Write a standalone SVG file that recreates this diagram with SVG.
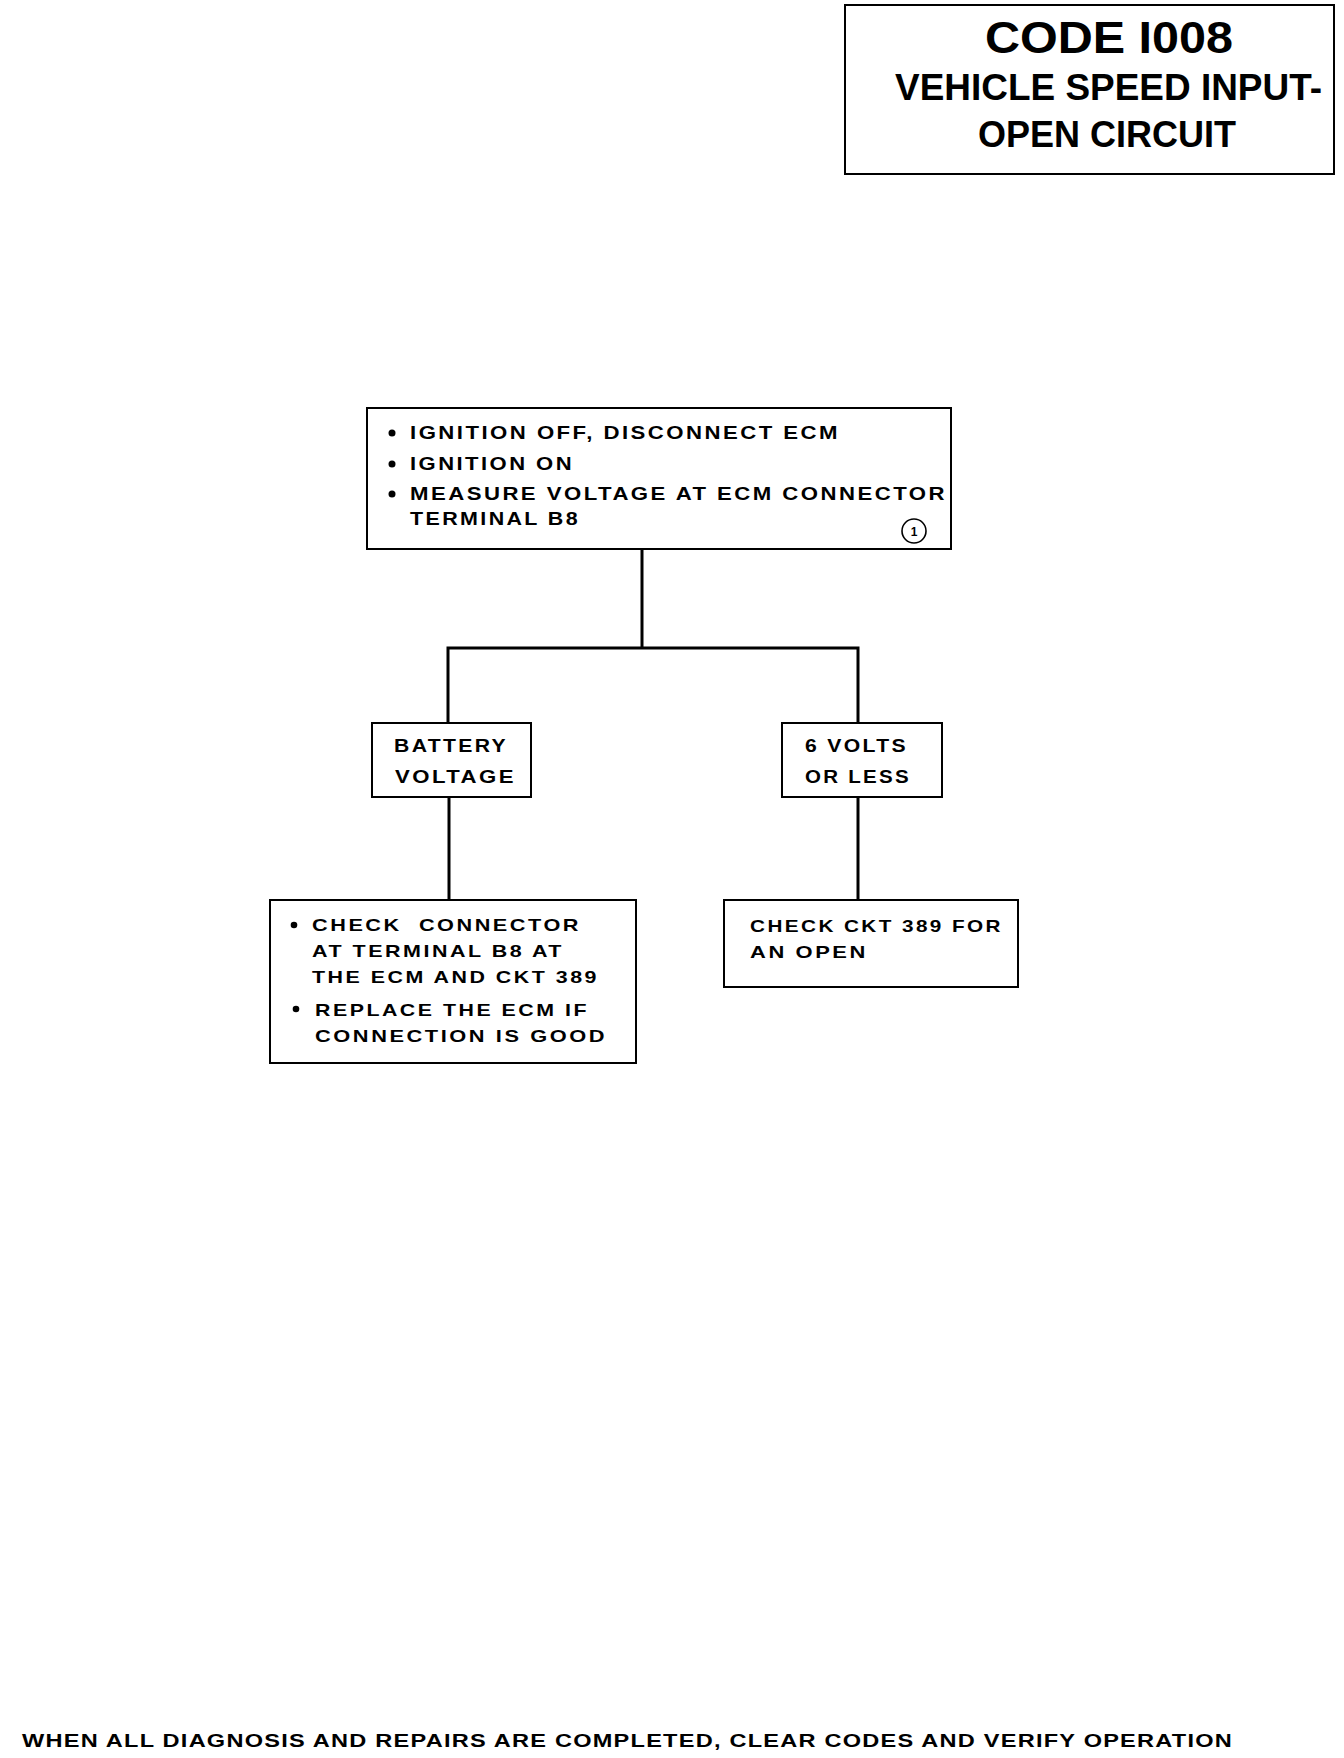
<svg xmlns="http://www.w3.org/2000/svg" width="1344" height="1758" viewBox="0 0 1344 1758">
<style>
.box{fill:#fff;stroke:#000;stroke-width:2}
.t{font-family:"Liberation Sans",Arial,sans-serif;font-weight:bold;fill:#000}
.w{letter-spacing:2px}
.m{font-size:18px}
.s{font-size:17px}
.b{font-size:18px}
.conn{fill:none;stroke:#000;stroke-width:3}
</style>
<rect width="1344" height="1758" fill="#fff"/>
<g id="title">
<rect class="box" x="845" y="5" width="489" height="169" stroke-width="2.5"/>
<text class="t" x="985" y="53" font-size="45" textLength="248" lengthAdjust="spacingAndGlyphs">CODE I008</text>
<text class="t" x="895" y="100" font-size="37" textLength="427" lengthAdjust="spacingAndGlyphs">VEHICLE SPEED INPUT-</text>
<text class="t" x="978" y="147" font-size="37" textLength="258" lengthAdjust="spacingAndGlyphs">OPEN CIRCUIT</text>
</g>
<g id="connectors">
<path class="conn" d="M642,549 V648"/>
<path class="conn" d="M448,723 V648 H858 V723"/>
<path class="conn" d="M449,797 V900"/>
<path class="conn" d="M858,797 V900"/>
</g>
<g id="start">
<rect class="box" x="367" y="408" width="584" height="141"/>
<circle cx="392" cy="433" r="3.5"/>
<circle cx="392" cy="464" r="3.5"/>
<circle cx="392" cy="494" r="3.5"/>
<text class="t m w" x="410" y="439" textLength="430" lengthAdjust="spacingAndGlyphs">IGNITION OFF, DISCONNECT ECM</text>
<text class="t m w" x="410" y="470" textLength="164" lengthAdjust="spacingAndGlyphs">IGNITION ON</text>
<text class="t m w" x="410" y="500" textLength="537" lengthAdjust="spacingAndGlyphs">MEASURE VOLTAGE AT ECM CONNECTOR</text>
<text class="t m w" x="410" y="525" textLength="170" lengthAdjust="spacingAndGlyphs">TERMINAL B8</text>
<circle cx="914" cy="531" r="12" fill="none" stroke="#000" stroke-width="1.6"/>
<text class="t" x="914" y="535.5" font-size="12" text-anchor="middle" font-weight="normal">1</text>
</g>
<g id="battery">
<rect class="box" x="372" y="723" width="159" height="74"/>
<text class="t b w" x="394" y="752" textLength="114" lengthAdjust="spacingAndGlyphs">BATTERY</text>
<text class="t b w" x="395" y="783" textLength="121" lengthAdjust="spacingAndGlyphs">VOLTAGE</text>
</g>
<g id="sixvolts">
<rect class="box" x="782" y="723" width="160" height="74"/>
<text class="t b w" x="805" y="752" textLength="103" lengthAdjust="spacingAndGlyphs">6 VOLTS</text>
<text class="t b w" x="805" y="783" textLength="106" lengthAdjust="spacingAndGlyphs">OR LESS</text>
</g>
<g id="checkconnector">
<rect class="box" x="270" y="900" width="366" height="163"/>
<circle cx="294" cy="925" r="3.3"/>
<circle cx="296" cy="1009" r="3.3"/>
<text class="t s w" x="312" y="931" textLength="269" lengthAdjust="spacingAndGlyphs" xml:space="preserve">CHECK  CONNECTOR</text>
<text class="t s w" x="312" y="957" textLength="252" lengthAdjust="spacingAndGlyphs">AT TERMINAL B8 AT</text>
<text class="t s w" x="312" y="983" textLength="287" lengthAdjust="spacingAndGlyphs">THE ECM AND CKT 389</text>
<text class="t s w" x="315" y="1016" textLength="274" lengthAdjust="spacingAndGlyphs">REPLACE THE ECM IF</text>
<text class="t s w" x="315" y="1042" textLength="292" lengthAdjust="spacingAndGlyphs">CONNECTION IS GOOD</text>
</g>
<g id="checkckt">
<rect class="box" x="724" y="900" width="294" height="87"/>
<text class="t s w" x="750" y="932" textLength="253" lengthAdjust="spacingAndGlyphs">CHECK CKT 389 FOR</text>
<text class="t s w" x="750" y="958" textLength="118" lengthAdjust="spacingAndGlyphs">AN OPEN</text>
</g>
<g id="footer">
<text class="t" x="22" y="1747" font-size="19" letter-spacing="1" textLength="1211" lengthAdjust="spacingAndGlyphs">WHEN ALL DIAGNOSIS AND REPAIRS ARE COMPLETED, CLEAR CODES AND VERIFY OPERATION</text>
</g>
</svg>
